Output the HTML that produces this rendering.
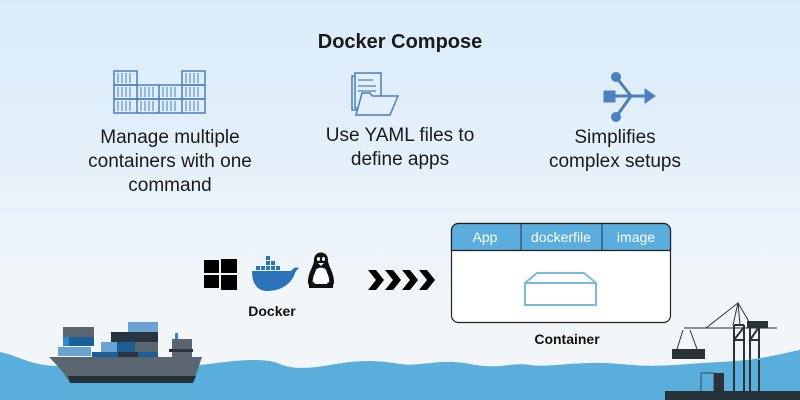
<!DOCTYPE html>
<html><head><meta charset="utf-8"><style>
body{margin:0}
#c{position:relative;width:800px;height:400px;overflow:hidden;background:linear-gradient(180deg,#d9ebf9 0%,#e6f1fa 45%,#f2f6f9 75%,#f4f6f8 100%);font-family:"Liberation Sans",sans-serif;color:#111}
.t{position:absolute;text-align:center;font-size:19px;line-height:24px;color:#1a1a1a}
.b{font-weight:bold}
</style></head><body><div id="c">
<div class="t b" style="left:250px;top:30px;width:300px;font-size:20px">Docker Compose</div>
<div class="t" style="left:70px;top:126px;width:200px">Manage multiple<br>containers with one<br>command</div>
<div class="t" style="left:310px;top:124px;width:180px">Use YAML files to<br>define apps</div>
<div class="t" style="left:530px;top:126px;width:170px">Simplifies<br>complex setups</div>
<svg width="800" height="400" style="position:absolute;left:0;top:0">
<!-- containers icon -->
<g fill="none" stroke="#4a7fc0" stroke-width="1.5">
<rect x="114" y="71" width="23" height="14"/><rect x="182" y="71" width="23" height="14"/>
<rect x="114" y="85" width="91" height="14"/><rect x="114" y="99" width="91" height="14"/>
<line x1="137" y1="85" x2="137" y2="113"/><line x1="159" y1="85" x2="159" y2="113"/><line x1="182" y1="85" x2="182" y2="113"/>
<path d="M118 73v10M122 73v10M126 73v10M130 73v10M186 73v10M190 73v10M194 73v10M198 73v10M118 87v10M122 87v10M126 87v10M130 87v10M141 87v10M145 87v10M149 87v10M153 87v10M163 87v10M167 87v10M171 87v10M175 87v10M186 87v10M190 87v10M194 87v10M198 87v10M118 101v10M122 101v10M126 101v10M130 101v10M141 101v10M145 101v10M149 101v10M153 101v10M163 101v10M167 101v10M171 101v10M175 101v10M186 101v10M190 101v10M194 101v10M198 101v10" stroke-width="1"/>
</g>
<!-- folder icon -->
<g fill="#e3effa" stroke="#4a7fc0" stroke-width="1.5">
<path d="M352 76h8v34h-8z"/><path d="M355 73h26v35h-26z"/>
<path d="M358 80h15M358 86h18M358 91h18" stroke-width="1.2"/>
<path d="M356 115l6-22h8l2 3h26l-8 19z"/>
</g>
<!-- flow icon -->
<g fill="#4a7fc0" stroke="#4a7fc0">
<circle cx="616" cy="77" r="4.5"/><circle cx="616" cy="117" r="4.5"/>
<rect x="604" y="91" width="11" height="11"/>
<path d="M616 77L631 96L616 117M615 96H647" fill="none" stroke-width="3"/>
<path d="M645 89l10 7l-10 7z"/>
</g>
<!-- windows -->
<g fill="#000"><rect x="204" y="260" width="15" height="13"/><rect x="221" y="259" width="16" height="14"/><rect x="204" y="275" width="15" height="13"/><rect x="221" y="275" width="16" height="15"/></g>
<!-- docker whale -->
<g fill="#2b73b8"><path d="M252 271h39c3-4 6-4 8-3c-2 2-3 3-4 5c-3 10-13 18-28 18c-10 0-15-8-15-20z"/>
<rect x="256" y="266" width="4" height="4"/><rect x="261" y="266" width="4" height="4"/><rect x="266" y="266" width="4" height="4"/><rect x="271" y="266" width="4" height="4"/><rect x="266" y="261" width="4" height="4"/><rect x="271" y="261" width="4" height="4"/><rect x="266" y="256" width="4" height="4"/><rect x="276" y="266" width="4" height="4"/></g>
<!-- tux -->
<g><path d="M314 260c0-10 14-10 14 0c0 6 6 12 6 22c0 4-4 6-6 6h-14c-3 0-6-2-6-6c0-10 6-16 6-22z" fill="#111"/>
<path d="M316 270c1-3 9-3 10 0c2 5 4 9 3 14h-16c-1-5 1-9 3-14z" fill="#fff"/>
<ellipse cx="318.5" cy="259" rx="1.5" ry="2" fill="#fff"/><ellipse cx="323.5" cy="259" rx="1.5" ry="2" fill="#fff"/>
<path d="M318 263h6l-3 3z" fill="#f2f2f2"/>
<path d="M309 285l5-3l3 6h-8zM333 285l-5-3l-3 6h8z" fill="#111"/></g>
<!-- chevrons -->
<g fill="#000"><path d="M368 270h8l8 10l-8 10h-8l8-10z"/><path d="M385 270h8l8 10l-8 10h-8l8-10z"/><path d="M402 270h8l8 10l-8 10h-8l8-10z"/><path d="M419 270h8l8 10l-8 10h-8l8-10z"/></g>
<!-- container box -->
<rect x="451.5" y="223.5" width="219" height="99" rx="7" fill="#fff" stroke="#222" stroke-width="1.2"/>
<path d="M451.5 250.5V230.5a7 7 0 0 1 7-7h205a7 7 0 0 1 7 7V250.5z" fill="#5aaddc" stroke="#222" stroke-width="1.2"/>
<line x1="521" y1="224" x2="521" y2="250" stroke="#234" stroke-width="1"/><line x1="602" y1="224" x2="602" y2="250" stroke="#234" stroke-width="1"/>
<g fill="none" stroke="#7ab8dc" stroke-width="2"><path d="M525 283l12-10h47l12 10v22h-71z M525 283h71"/></g>
<g font-family="Liberation Sans,sans-serif" font-size="14" fill="#fff" text-anchor="middle"><text x="485" y="242">App</text><text x="561" y="242">dockerfile</text><text x="636" y="242">image</text></g>
<g font-family="Liberation Sans,sans-serif" font-size="14" font-weight="bold" fill="#111" text-anchor="middle"><text x="272" y="316">Docker</text><text x="567" y="344">Container</text></g>
<!-- crane -->
<g stroke="#2a3338" fill="none" stroke-width="1"><path d="M684 328h93M706 328l32-25l-5 22M738 303l13 22M738 303l2 22M683 330l-6 19M690 330l7 19"/>
<path d="M734 325v67M744 325v67M750 325v67M759 325v67M734 325h10M750 325h10M734 340h10M750 340h10M744 327l-10 13M759 327l-9 13" stroke-width="2"/></g>
<rect x="747" y="321" width="21" height="7" fill="#2a3338"/>
<rect x="672" y="349" width="33" height="10" fill="#2a3338"/>
<!-- water -->
<path d="M0 352C20 356 30 366 60 366S120 360 150 362S185 366 200 365S260 355 280 364S330 364 350 362S380 361 400 364S440 358 470 364S510 362 530 365S580 360 620 364S680 364 720 362S770 356 800 350V400H0Z" fill="#5aaedc"/>
<rect x="701" y="373" width="13" height="19" fill="none" stroke="#2a3338" stroke-width="0.8"/>
<rect x="714" y="373" width="10" height="20" fill="#2a3338"/>
<g stroke="#2a3338" stroke-width="2"><path d="M734 360v32M744 360v32M750 360v32M759 360v32"/></g>
<rect x="665" y="391" width="135" height="9" fill="#263238"/>
<!-- ship -->
<g>
<rect x="63" y="327" width="31" height="10" fill="#5a6570"/><rect x="63" y="337" width="31" height="9" fill="#1b5f96"/><rect x="63" y="337" width="6" height="9" fill="#2e8ad0"/>
<rect x="58" y="347" width="33" height="9" fill="#6aa2d2"/>
<rect x="128" y="322" width="30" height="10" fill="#6aa2d2"/>
<rect x="111" y="332" width="24" height="10" fill="#2a3440"/><rect x="135" y="332" width="23" height="10" fill="#2a3440"/>
<rect x="101" y="342" width="16" height="10" fill="#6aa2d2"/><rect x="117" y="342" width="18" height="10" fill="#1b5f96"/><rect x="135" y="342" width="23" height="10" fill="#5a6570"/>
<rect x="92" y="352" width="26" height="9" fill="#1b5f96"/><rect x="118" y="352" width="20" height="9" fill="#2a3440"/><rect x="138" y="352" width="20" height="9" fill="#1b5f96"/>
<rect x="172" y="339" width="20" height="22" fill="#5a6570"/><rect x="169" y="349" width="24" height="3" fill="#2a3440"/><rect x="175" y="333" width="3" height="6" fill="#2e8ad0"/>
<path d="M49 357H202L193 383H70C66 375 58 366 49 357Z" fill="#5a6570"/>
<path d="M68 376H196L193 383H70Z" fill="#263038"/>
</g>
</svg>
</div></body></html>
